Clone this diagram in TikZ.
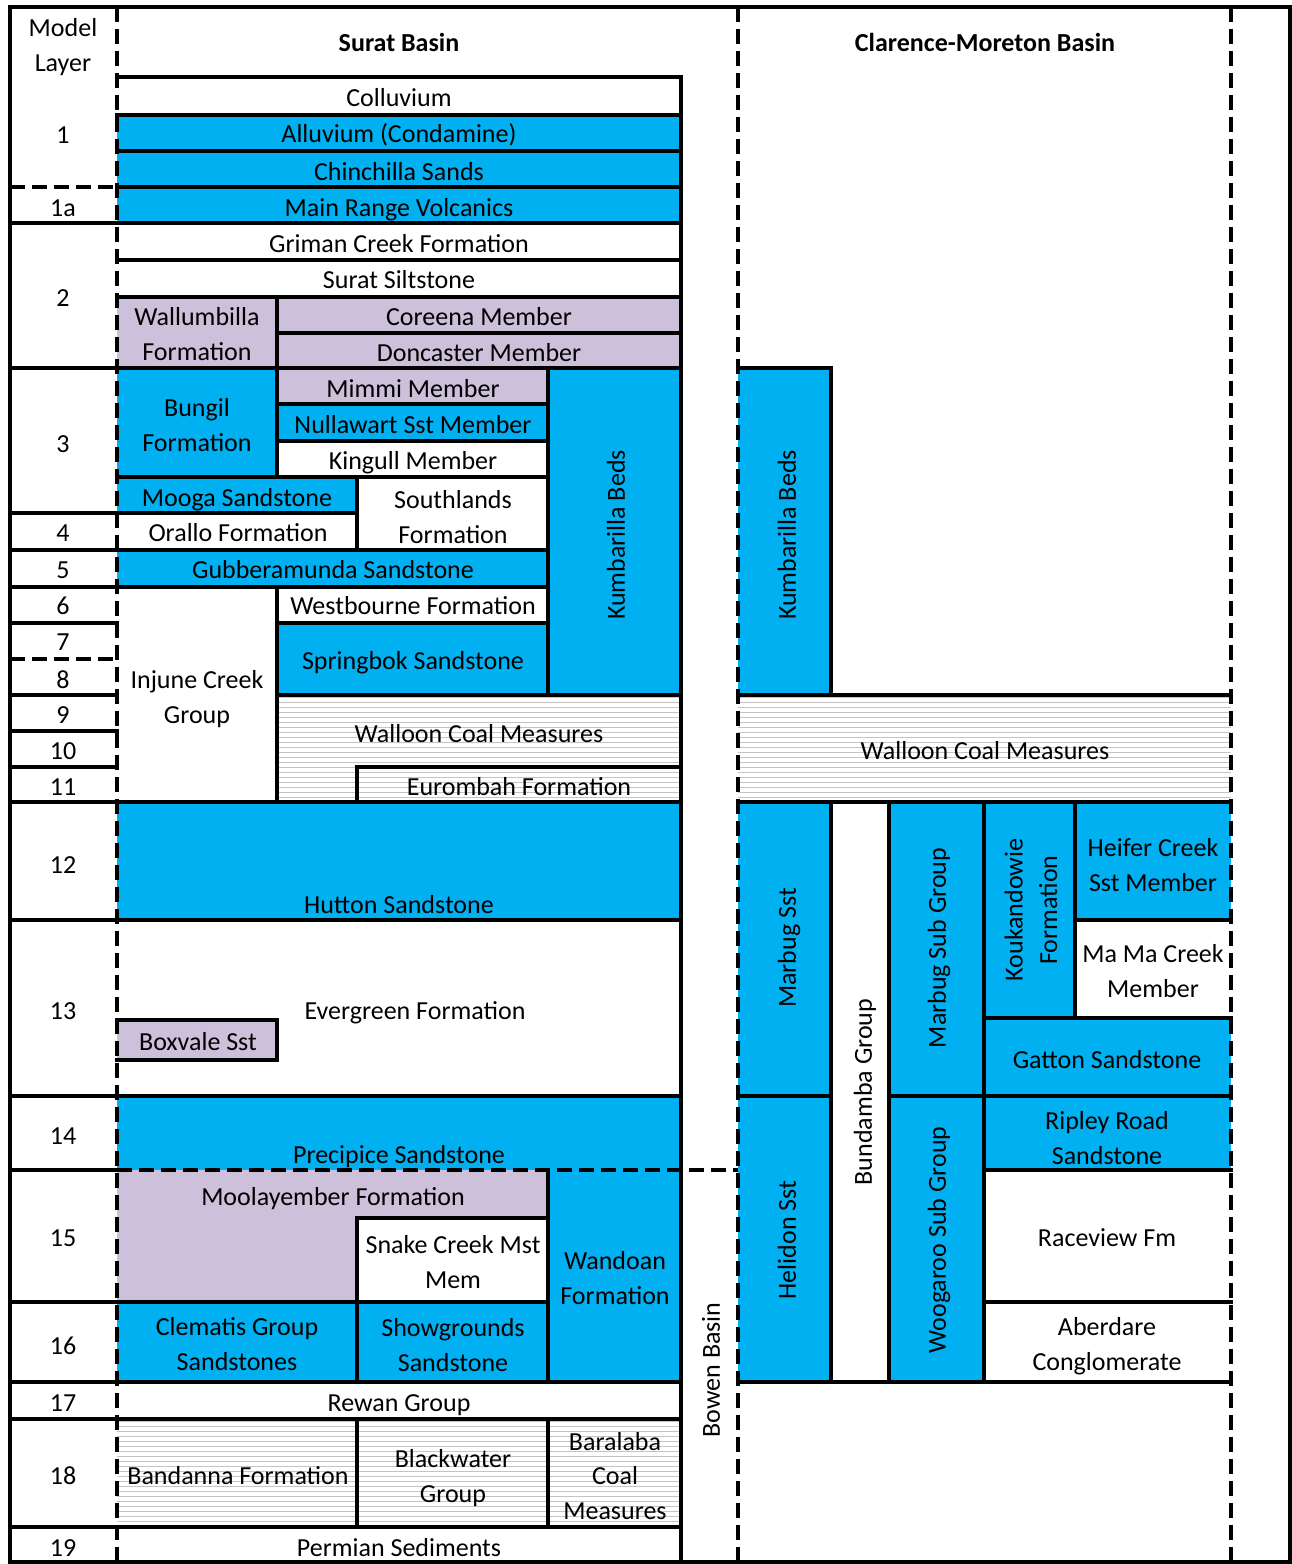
\documentclass[tikz,border=0pt]{standalone}
\usepackage{fontspec}
\setmainfont{Carlito}
\definecolor{sky}{HTML}{00B0F0}
\definecolor{lilac}{HTML}{CCC0DA}
\definecolor{hatchgrey}{HTML}{C4C4C4}
% strut so every line of a label has the same height and depth
\newcommand\st{\rule[-7pt]{0pt}{33.5pt}}
\begin{document}
\begin{tikzpicture}[x=1pt,y=-1pt,
  sline/.style={line width=3.5pt, line cap=rect},
  dline/.style={line width=3.5pt, dash pattern=on 15pt off 7pt},
  lbl/.style={font=\fontsize{26}{34.5}\selectfont, align=center, inner sep=0pt},
  vlbl/.style={lbl, rotate=90},
  ttl/.style={lbl, font=\fontsize{26}{34.5}\selectfont\bfseries}]
\useasboundingbox (0,0) rectangle (1292,1564);
\fill[white] (0,0) rectangle (1292,1564);

% ---- blue units ----
\fill[sky] (117,115) rectangle (681,223);
\fill[sky] (117,368) rectangle (277,477);
\fill[sky] (277,404) rectangle (548,441);
\fill[sky] (548,368) rectangle (681,695);
\fill[sky] (117,477) rectangle (357,513);
\fill[sky] (117,550) rectangle (548,587);
\fill[sky] (277,623) rectangle (548,695);
\fill[sky] (117,802) rectangle (681,920);
\fill[sky] (117,1096) rectangle (681,1170);
\fill[sky] (548,1170) rectangle (681,1382);
\fill[sky] (117,1302) rectangle (548,1382);
\fill[sky] (738,368) rectangle (831,695);
\fill[sky] (738,802) rectangle (831,1382);
\fill[sky] (889,802) rectangle (1231,1170);
\fill[sky] (889,1170) rectangle (984,1382);
\fill[white] (1075,920) rectangle (1231,1018);

% ---- lilac units ----
\fill[lilac] (117,297) rectangle (681,368);
\fill[lilac] (277,368) rectangle (548,404);
\fill[lilac] (117,1170) rectangle (548,1302);
\fill[white] (357,1218) rectangle (548,1302);
\fill[lilac] (117,1020) rectangle (277,1060);

% ---- coal measures hatching ----
\begin{scope}
  \clip (277,695) rectangle (681,802)
        (117,1419) rectangle (681,1527)
        (738,695) rectangle (1231,802);
  \foreach \yy in {697,702,...,802} \draw[hatchgrey, line width=1pt] (117,\yy) -- (1231,\yy);
  \foreach \yy in {1421,1426,...,1527} \draw[hatchgrey, line width=1pt] (117,\yy) -- (681,\yy);
\end{scope}

% ---- dashed boundaries ----
\draw[dline] (117,7) -- (117,1562);
\draw[dline] (738,7) -- (738,1562);
\draw[dline] (1231,7) -- (1231,1562);
\draw[dline] (10,187) -- (117,187);
\draw[dline] (10,659) -- (117,659);
\draw[dline] (117,1170) -- (738,1170);

% ---- solid boundaries ----
\draw[sline] (10,7) rectangle (1290,1562);
\draw[sline] (117,77) -- (681,77);
\draw[sline] (117,115) -- (681,115);
\draw[sline] (117,151) -- (681,151);
\draw[sline] (117,187) -- (681,187);
\draw[sline] (10,223) -- (681,223);
\draw[sline] (117,260) -- (681,260);
\draw[sline] (117,297) -- (681,297);
\draw[sline] (277,333) -- (681,333);
\draw[sline] (10,368) -- (681,368);
\draw[sline] (738,368) -- (831,368);
\draw[sline] (277,404) -- (548,404);
\draw[sline] (277,441) -- (548,441);
\draw[sline] (117,477) -- (548,477);
\draw[sline] (10,513) -- (357,513);
\draw[sline] (10,550) -- (548,550);
\draw[sline] (10,587) -- (548,587);
\draw[sline] (10,623) -- (117,623);
\draw[sline] (277,623) -- (548,623);
\draw[sline] (10,695) -- (117,695);
\draw[sline] (277,695) -- (681,695);
\draw[sline] (738,695) -- (1231,695);
\draw[sline] (10,731) -- (117,731);
\draw[sline] (10,767) -- (117,767);
\draw[sline] (357,767) -- (681,767);
\draw[sline] (10,802) -- (681,802);
\draw[sline] (738,802) -- (1231,802);
\draw[sline] (10,920) -- (681,920);
\draw[sline] (1075,920) -- (1231,920);
\draw[sline] (984,1018) -- (1231,1018);
\draw[sline] (117,1020) -- (277,1020) -- (277,1060) -- (117,1060);
\draw[sline] (10,1096) -- (681,1096);
\draw[sline] (738,1096) -- (831,1096);
\draw[sline] (889,1096) -- (1231,1096);
\draw[sline] (10,1170) -- (117,1170);
\draw[sline] (984,1170) -- (1231,1170);
\draw[sline] (357,1218) -- (548,1218);
\draw[sline] (10,1302) -- (548,1302);
\draw[sline] (984,1302) -- (1231,1302);
\draw[sline] (10,1382) -- (681,1382);
\draw[sline] (738,1382) -- (1231,1382);
\draw[sline] (10,1419) -- (681,1419);
\draw[sline] (10,1527) -- (681,1527);

\draw[sline] (681,77) -- (681,1562);
\draw[sline] (277,297) -- (277,477);
\draw[sline] (277,587) -- (277,802);
\draw[sline] (548,368) -- (548,695);
\draw[sline] (548,1170) -- (548,1382);
\draw[sline] (548,1419) -- (548,1527);
\draw[sline] (357,477) -- (357,550);
\draw[sline] (357,767) -- (357,802);
\draw[sline] (357,1218) -- (357,1382);
\draw[sline] (357,1419) -- (357,1527);
\draw[sline] (831,368) -- (831,695);
\draw[sline] (831,802) -- (831,1382);
\draw[sline] (889,802) -- (889,1382);
\draw[sline] (984,802) -- (984,1382);
\draw[sline] (1075,802) -- (1075,1018);

% ---- headings ----
\node[lbl] (modellayer) at (63,44) {\st Model\\\st Layer};
\node[ttl] (surat) at (399,42) {\st Surat Basin};
\node[ttl] (clarence) at (985,42) {\st Clarence-Moreton Basin};

% ---- model layer numbers ----
\node[lbl] (l1) at (63,134) {\st 1};
\node[lbl] (l1a) at (63,207) {\st 1a};
\node[lbl] (l2) at (63,297) {\st 2};
\node[lbl] (l3) at (63,443) {\st 3};
\node[lbl] (l4) at (63,532) {\st 4};
\node[lbl] (l5) at (63,569) {\st 5};
\node[lbl] (l6) at (63,605) {\st 6};
\node[lbl] (l7) at (63,641) {\st 7};
\node[lbl] (l8) at (63,679) {\st 8};
\node[lbl] (l9) at (63,714) {\st 9};
\node[lbl] (l10) at (63,750) {\st 10};
\node[lbl] (l11) at (63,786) {\st 11};
\node[lbl] (l12) at (63,864) {\st 12};
\node[lbl] (l13) at (63,1010) {\st 13};
\node[lbl] (l14) at (63,1135) {\st 14};
\node[lbl] (l15) at (63,1237) {\st 15};
\node[lbl] (l16) at (63,1345) {\st 16};
\node[lbl] (l17) at (63,1402) {\st 17};
\node[lbl] (l18) at (63,1475) {\st 18};
\node[lbl] (l19) at (63,1547) {\st 19};

% ---- Surat Basin units ----
\node[lbl] (colluvium) at (399,97) {\st Colluvium};
\node[lbl] (alluvium) at (399,133) {\st Alluvium (Condamine)};
\node[lbl] (chinchilla) at (399,171) {\st Chinchilla Sands};
\node[lbl] (mainrange) at (399,207) {\st Main Range Volcanics};
\node[lbl] (griman) at (399,243) {\st Griman Creek Formation};
\node[lbl] (siltstone) at (399,279) {\st Surat Siltstone};
\node[lbl] (wallumbilla) at (197,333) {\st Wallumbilla\\\st Formation};
\node[lbl] (coreena) at (479,316) {\st Coreena Member};
\node[lbl] (doncaster) at (479,352) {\st Doncaster Member};
\node[lbl] (bungil) at (197,424) {\st Bungil\\\st Formation};
\node[lbl] (mimmi) at (413,388) {\st Mimmi Member};
\node[lbl] (nullawart) at (413,424) {\st Nullawart Sst Member};
\node[lbl] (kingull) at (413,460) {\st Kingull Member};
\node[lbl] (mooga) at (237,497) {\st Mooga Sandstone};
\node[lbl] (southlands) at (453,516) {\st Southlands\\\st Formation};
\node[lbl] (orallo) at (238,532) {\st Orallo Formation};
\node[lbl] (gubberamunda) at (333,569) {\st Gubberamunda Sandstone};
\node[lbl] (westbourne) at (413,605) {\st Westbourne Formation};
\node[lbl] (injune) at (197,696) {\st Injune Creek\\\st Group};
\node[lbl] (springbok) at (413,660) {\st Springbok Sandstone};
\node[vlbl] (kumbarillaS) at (615,535) {\st Kumbarilla Beds};
\node[lbl] (walloonS) at (479,733) {\st Walloon Coal Measures};
\node[lbl] (eurombah) at (519,786) {\st Eurombah Formation};
\node[lbl] (hutton) at (399,904) {\st Hutton Sandstone};
\node[lbl] (evergreen) at (415,1010) {\st Evergreen Formation};
\node[lbl] (boxvale) at (198,1041) {\st Boxvale Sst};
\node[lbl] (precipice) at (399,1154) {\st Precipice Sandstone};
\node[lbl] (moolayember) at (333,1196) {\st Moolayember Formation};
\node[lbl] (snakecreek) at (453,1261) {\st Snake Creek Mst\\\st Mem};
\node[lbl] (wandoan) at (615,1277) {\st Wandoan\\\st Formation};
\node[lbl] (clematis) at (237,1343) {\st Clematis Group\\\st Sandstones};
\node[lbl] (showgrounds) at (453,1344) {\st Showgrounds\\\st Sandstone};
\node[lbl] (rewan) at (399,1402) {\st Rewan Group};
\node[lbl] (bandanna) at (238,1475) {\st Bandanna Formation};
\node[lbl] (blackwater) at (453,1475) {\st Blackwater\\\st Group};
\node[lbl] (baralaba) at (615,1475) {\st Baralaba\\\st Coal\\\st Measures};
\node[lbl] (permian) at (399,1547) {\st Permian Sediments};
\node[vlbl] (bowen) at (710,1370) {\st Bowen Basin};

% ---- Clarence-Moreton Basin units ----
\node[vlbl] (kumbarillaC) at (786,535) {\st Kumbarilla Beds};
\node[lbl] (walloonC) at (985,750) {\st Walloon Coal Measures};
\node[vlbl] (marbugsst) at (786,948) {\st Marbug Sst};
\node[vlbl] (bundamba) at (862,1092) {\st Bundamba Group};
\node[vlbl] (marbugsub) at (936,948) {\st Marbug Sub Group};
\node[vlbl] (koukandowie) at (1030,910) {\st Koukandowie\\\st Formation};
\node[lbl] (heifer) at (1153,864) {\st Heifer Creek\\\st Sst Member};
\node[lbl] (mamacreek) at (1153,970) {\st Ma Ma Creek\\\st Member};
\node[lbl] (gatton) at (1107,1059) {\st Gatton Sandstone};
\node[vlbl] (helidon) at (786,1240) {\st Helidon Sst};
\node[vlbl] (woogaroo) at (936,1240) {\st Woogaroo Sub Group};
\node[lbl] (ripley) at (1107,1137) {\st Ripley Road\\\st Sandstone};
\node[lbl] (raceview) at (1107,1237) {\st Raceview Fm};
\node[lbl] (aberdare) at (1107,1343) {\st Aberdare\\\st Conglomerate};
\end{tikzpicture}
\end{document}
